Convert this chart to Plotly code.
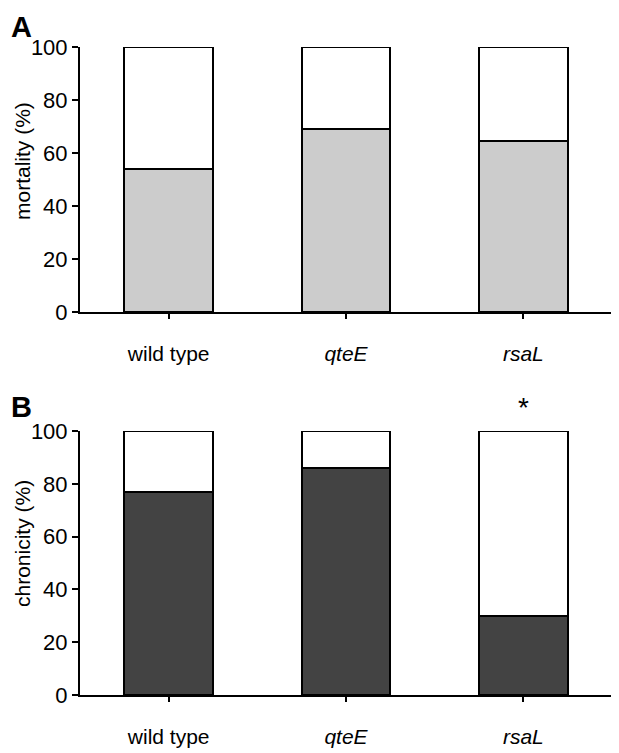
import plotly.graph_objects as go

categories = ["wild type", "qteE", "rsaL"]
tick_labels = ["wild type", "<i>qteE</i>", "<i>rsaL</i>"]
y_titles = ["mortality (%)", "chronicity (%)"]
mortality = [54, 69, 64.5]
chronicity = [77, 86, 30]

FONT = "Liberation Sans, Arial, sans-serif"
x = [0, 1, 2]

# page body has an 8px margin; size the figure so plot areas land where intended
W, H = 611, 745
ML, MR, MT, MB = 72, 7, 39, 58
plot_w = W - ML - MR
plot_h = H - MT - MB
OFF = 8

def px_x(page_x):
    return (page_x - OFF - ML) / plot_w

def px_y(page_y):
    return (H - MB - (page_y - OFF)) / plot_h

fig = go.Figure()

def add_panel(vals, color, xa, ya):
    fig.add_trace(go.Bar(x=x, y=vals, marker=dict(color=color, line=dict(color="black", width=2)),
                         width=0.5, xaxis=xa, yaxis=ya, cliponaxis=False, showlegend=False, hoverinfo="skip"))
    fig.add_trace(go.Bar(x=x, y=[100 - v for v in vals], marker=dict(color="white", line=dict(color="black", width=2)),
                         width=0.5, xaxis=xa, yaxis=ya, cliponaxis=False, showlegend=False, hoverinfo="skip"))

add_panel(mortality, "#cccccc", "x", "y")
add_panel(chronicity, "#434343", "x2", "y2")

xcommon = dict(range=[-0.5, 2.5], tickmode="array", tickvals=x, ticktext=tick_labels,
               showline=True, linecolor="black", linewidth=2, ticks="outside", ticklen=5,
               tickwidth=2, tickcolor="black", showgrid=False, zeroline=False, automargin=False,
               tickfont=dict(family=FONT, size=21, color="black"), ticklabelstandoff=17, fixedrange=True)
ycommon = dict(range=[0, 100], tickvals=[0, 20, 40, 60, 80, 100], showline=True, linecolor="black",
               linewidth=2, ticks="outside", ticklen=6, tickwidth=2, tickcolor="black", automargin=False,
               showgrid=False, zeroline=False, tickfont=dict(family=FONT, size=22, color="black"),
               fixedrange=True)

fig.update_layout(
    width=W, height=H, barmode="stack",
    margin=dict(l=ML, r=MR, t=MT, b=MB),
    paper_bgcolor="white", plot_bgcolor="white",
    xaxis=dict(xcommon, domain=[0, 1], anchor="y"),
    yaxis=dict(ycommon, domain=[px_y(312), 1.0], anchor="x"),
    xaxis2=dict(xcommon, domain=[0, 1], anchor="y2"),
    yaxis2=dict(ycommon, domain=[0, px_y(431)], anchor="x2"),
    annotations=[
        dict(text="<b>A</b>", x=px_x(9), y=px_y(8.5), xref="paper", yref="paper", showarrow=False,
             font=dict(family=FONT, size=29, color="black"), xanchor="left", yanchor="top"),
        dict(text="<b>B</b>", x=px_x(9), y=px_y(407), xref="paper", yref="paper", showarrow=False,
             font=dict(family=FONT, size=29, color="black"), xanchor="left", yanchor="middle"),
        dict(text=y_titles[0], x=px_x(22), y=px_y(161), xref="paper", yref="paper", showarrow=False,
             textangle=-90, font=dict(family=FONT, size=21, color="black"), xanchor="center", yanchor="middle"),
        dict(text=y_titles[1], x=px_x(22), y=px_y(544), xref="paper", yref="paper", showarrow=False,
             textangle=-90, font=dict(family=FONT, size=21, color="black"), xanchor="center", yanchor="middle"),
        dict(text="*", x=2, y=px_y(431), xref="x2", yref="paper", showarrow=False, yshift=24,
             font=dict(family=FONT, size=28, color="black"), xanchor="center", yanchor="middle"),
    ],
)

fig.write_html("out.html")
